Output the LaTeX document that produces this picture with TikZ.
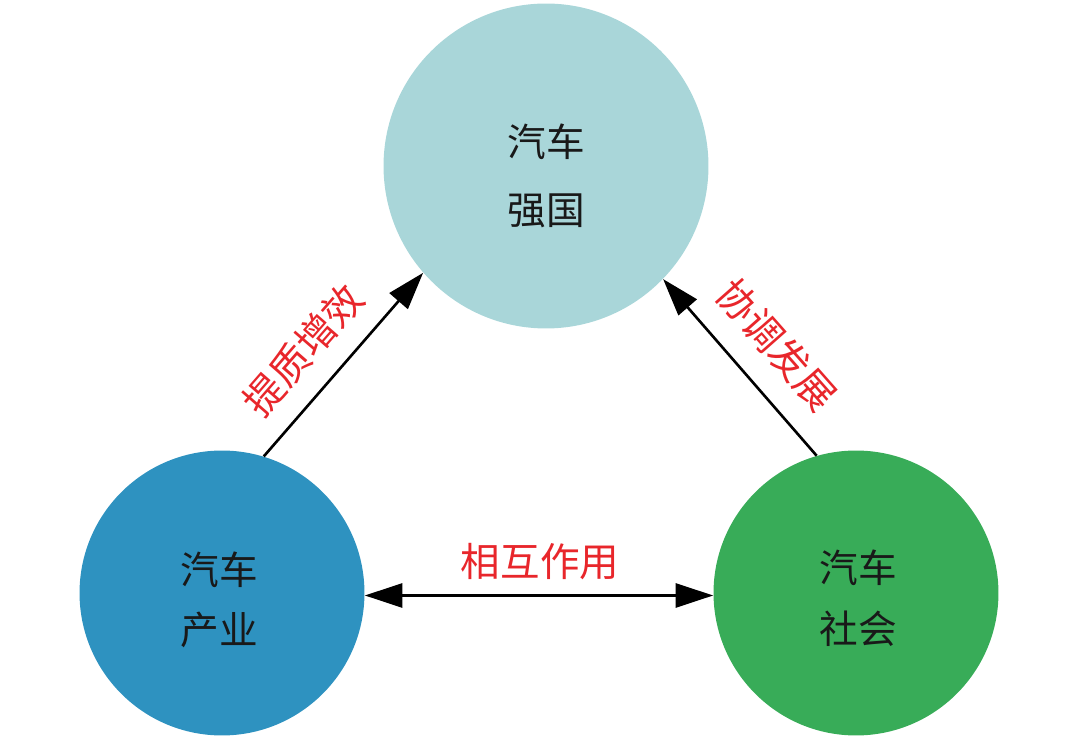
\documentclass[tikz,border=0pt]{standalone}
\usepackage{fontspec}
\setmainfont{Noto Sans CJK SC}
\usepackage{xcolor}
\usepackage{tikz}
\usetikzlibrary{calc}
\usetikzlibrary{arrows.meta}
\usetikzlibrary{positioning}
\definecolor{topc}{HTML}{A9D6D9}
\definecolor{leftc}{HTML}{2E92C0}
\definecolor{rightc}{HTML}{38AC58}
\definecolor{redc}{HTML}{E8262B}
\tikzset{main/.style={circle, inner sep=0pt}}
\tikzset{txt/.style={align=center, text=black!90, inner sep=0pt}}
\tikzset{lbl/.style={text=redc, inner sep=1pt, font=\fontsize{22.5}{26}\selectfont}}
\tikzset{link/.style={line width=1.5pt, ->}}

\begin{document}
\begin{tikzpicture}[x=0.02cm, y=-0.02cm, >={Triangle[length=0.75cm,width=0.48cm]}]
		\useasboundingbox (0,0) rectangle (1080,743);
		\node[main, fill=topc, minimum size=6.5cm] (G) at (546,166) {};
		\node[main, fill=leftc, minimum size=5.7cm] (I) at (222,593) {};
		\node[main, fill=rightc, minimum size=5.7cm] (S) at (856,593) {};
		
		\node[txt, font=\fontsize{22}{38.5}\selectfont] (Gt) at (546,176) {汽车\\强国};
		\node[txt, font=\fontsize{22}{34.5}\selectfont] (It) at (219,600) {汽车\\产业};
		\node[txt, font=\fontsize{22}{34.5}\selectfont] (St) at (858,598) {汽车\\社会};
		
		\draw[link] (I.73.7) -- (G.221);
		\draw[link] (S.106.6) -- (G.-44.5);
		\draw[link, <->] (I.-1.6) -- (S.181.6);
		
		\node[lbl, rotate=49] (A) at (303,350) {提质增效};
		\node[lbl, rotate=-48.6] (B) at (777,345) {协调发展};
		\node[lbl] (C) at (540,562) {相互作用};
	\end{tikzpicture}
\end{document}
